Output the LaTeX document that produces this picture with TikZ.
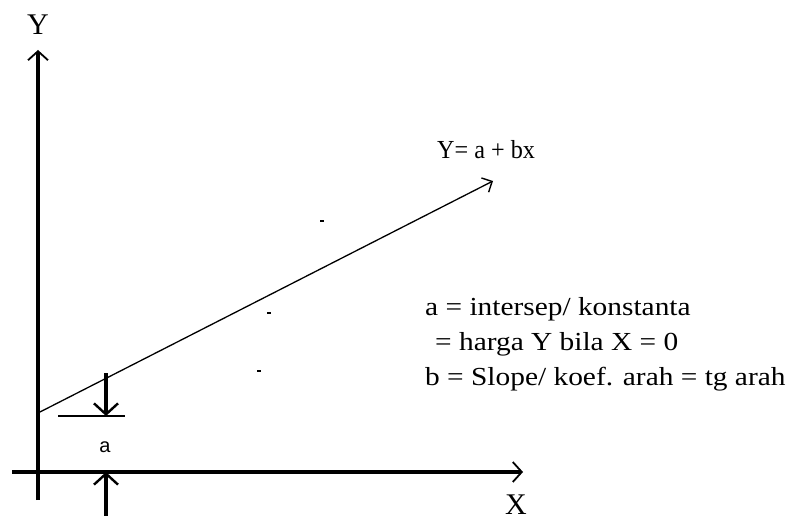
\documentclass[tikz,border=0pt]{standalone}
\usepackage{graphicx}
\usepackage{fontspec}
\setmainfont{Liberation Serif}
\newfontfamily\smallsans{Liberation Sans}
\usetikzlibrary{arrows.meta}
\newcommand{\wide}[1]{\scalebox{1.13}[1]{#1}}
\newcommand{\narrowtxt}[1]{\scalebox{0.93}[1]{#1}}
\begin{document}
\begin{tikzpicture}[x=1pt,y=-1pt,
  axis/.style={line width=3.6pt,-{Straight Barb[length=9pt,width=20pt,line width=1.8pt]}},
  thinarrow/.style={line width=1.3pt,-{Straight Barb[length=8pt,width=16pt,line width=1.4pt]}},
  marker/.style={line width=3.6pt,-{Straight Barb[length=11pt,width=24pt,line width=2.4pt]}},
  axlbl/.style={inner sep=0pt,font=\fontsize{30}{34}\selectfont},
  txt/.style={inner sep=0pt,anchor=base west,font=\fontsize{26}{30}\selectfont}]
\useasboundingbox (0,0) rectangle (790,516);
% coordinates
\coordinate (ybot) at (38,500);
\coordinate (ytop) at (38,50);
\coordinate (xleft) at (12,472);
\coordinate (xright) at (523,472);
\coordinate (lstart) at (38,413);
\coordinate (lend) at (493,181);
\coordinate (hl) at (58,416);
\coordinate (hr) at (125,416);
\coordinate (dtop) at (106,373);
\coordinate (dtip) at (106,416);
\coordinate (ubot) at (106,516);
\coordinate (utip) at (106,472);
% axes
\draw[axis] (ybot) -- (ytop);
\draw[axis] (xleft) -- (xright);
\node[axlbl] (ylab) at (38,25) {Y};
\node[axlbl] (xlab) at (516,505) {X};
% regression line
\draw[thinarrow] (lstart) -- (lend);
\node[txt] (eq) at (437,158) {\narrowtxt{Y= a + bx}};
% intercept markers
\draw[line width=1.6pt] (hl) -- (hr);
\draw[marker] (dtop) -- (dtip);
\draw[marker] (ubot) -- (utip);
\node[inner sep=0pt,font=\smallsans\fontsize{20}{22}\selectfont] (alab) at (105,447) {a};
% text block
\node[txt] (t1) at (425,315) {\wide{a = intersep/ konstanta}};
\node[txt] (t2) at (435,350) {\wide{= harga Y bila X = 0}};
\node[txt] (t3) at (425,385) {\wide{b = Slope/ koef. arah = tg arah}};
% stray marks
\draw[line width=1.5pt] (320,221) -- (324,221);
\draw[line width=1.5pt] (267,313) -- (271,313);
\draw[line width=1.5pt] (257,371) -- (261,371);
\end{tikzpicture}
\end{document}
